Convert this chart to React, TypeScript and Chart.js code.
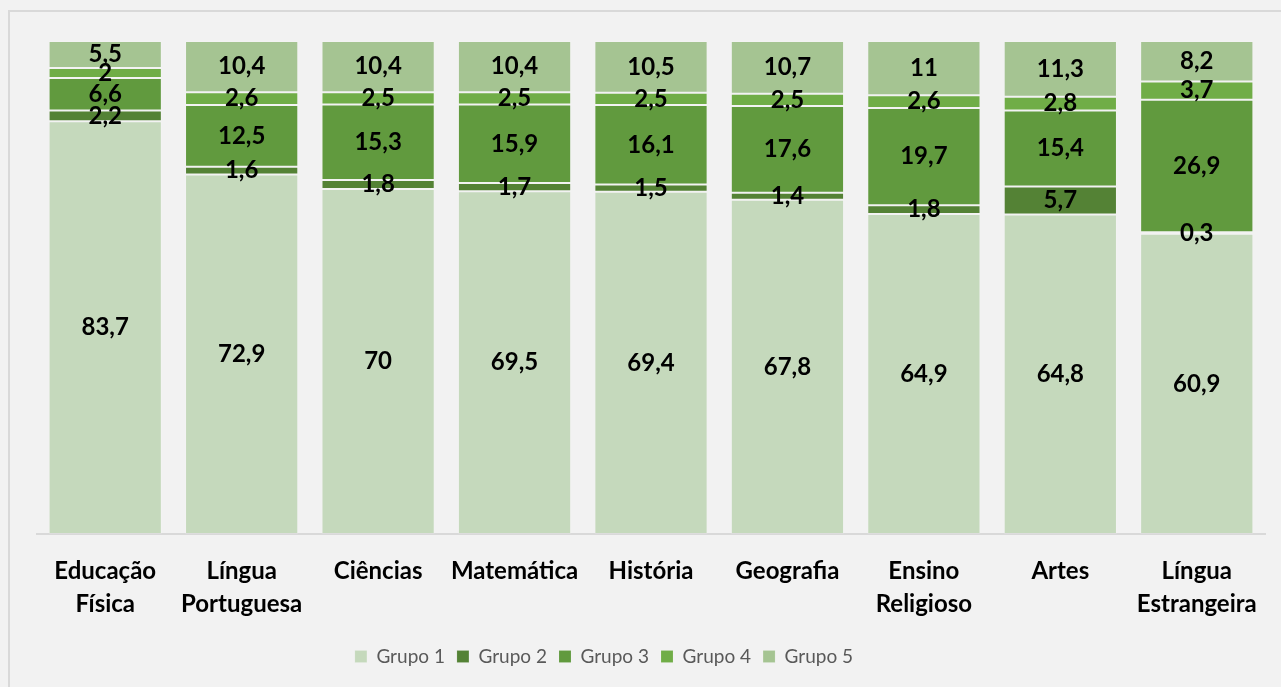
import React, { useEffect, useRef } from "react";
import { Chart, registerables } from "chart.js";

Chart.register(...registerables);

const categories: (string | string[])[] = [
  ["Educação", "Física"],
  ["Língua", "Portuguesa"],
  "Ciências",
  "Matemática",
  "História",
  "Geografia",
  ["Ensino", "Religioso"],
  "Artes",
  ["Língua", "Estrangeira"],
];

const grupo1 = [83.7, 72.9, 70, 69.5, 69.4, 67.8, 64.9, 64.8, 60.9];
const grupo2 = [2.2, 1.6, 1.8, 1.7, 1.5, 1.4, 1.8, 5.7, 0.3];
const grupo3 = [6.6, 12.5, 15.3, 15.9, 16.1, 17.6, 19.7, 15.4, 26.9];
const grupo4 = [2, 2.6, 2.5, 2.5, 2.5, 2.5, 2.6, 2.8, 3.7];
const grupo5 = [5.5, 10.4, 10.4, 10.4, 10.5, 10.7, 11, 11.3, 8.2];

const seriesNames = ["Grupo 1", "Grupo 2", "Grupo 3", "Grupo 4", "Grupo 5"];
const seriesColors = ["#c5d9bc", "#548235", "#619a3e", "#70ad47", "#a5c492"];

const FONT = "Lato, 'Liberation Sans', sans-serif";

const labelPlugin = {
  id: "segLabels",
  afterDatasetsDraw(chart: any) {
    const ctx = chart.ctx;
    ctx.save();
    ctx.font = `bold 24px ${FONT}`;
    ctx.fillStyle = "#000000";
    ctx.textAlign = "center";
    ctx.textBaseline = "middle";
    chart.data.datasets.forEach((ds: any, di: number) => {
      const meta = chart.getDatasetMeta(di);
      meta.data.forEach((el: any, i: number) => {
        const v = ds.data[i];
        const y = (el.y + el.base) / 2;
        ctx.fillText(String(v).replace(".", ","), el.x, y);
      });
    });
    ctx.restore();
  },
};

const framePlugin = {
  id: "frame",
  beforeDraw(chart: any) {
    const ctx = chart.ctx;
    ctx.save();
    ctx.fillStyle = "#f2f2f2";
    ctx.fillRect(0, 0, chart.width, chart.height);
    ctx.strokeStyle = "#d9d9d9";
    ctx.lineWidth = 2;
    ctx.strokeRect(9, 11, chart.width + 20, chart.height + 20);
    ctx.restore();
    const lg = chart.legend;
    if (lg && !lg.__shifted) {
      lg.__shifted = true;
      const orig = lg.draw;
      lg.draw = function (...args: any[]) {
        const c = this.ctx;
        c.save();
        c.translate(-47, -7);
        orig.apply(this, args);
        c.restore();
      };
    }
  },
};

export default function App() {
  const ref = useRef<HTMLCanvasElement>(null);
  useEffect(() => {
    if (!ref.current) return;
    const datasets = [grupo1, grupo2, grupo3, grupo4, grupo5].map((d, i) => ({
      label: seriesNames[i],
      data: d,
      backgroundColor: seriesColors[i],
      borderColor: "rgba(255,255,255,0.12)",
      borderWidth: 1,
      borderSkipped: false,
      categoryPercentage: 1,
      barPercentage: 0.83,
    }));
    const chart = new Chart(ref.current, {
      type: "bar",
      data: { labels: categories, datasets },
      options: {
        animation: false,
        responsive: false,
        maintainAspectRatio: false,
        layout: { padding: { left: 37, right: 16, top: 41, bottom: 4 } },
        scales: {
          x: {
            stacked: true,
            grid: { display: false, drawTicks: false },
            border: { display: true, color: "#d9d9d9", width: 2 },
            ticks: {
              color: "#000000",
              font: { family: FONT, size: 24, weight: "bold", lineHeight: 1.375 },
              padding: 21,
              maxRotation: 0,
              autoSkip: false,
            },
          },
          y: {
            stacked: true,
            display: false,
            min: 0,
            max: 100,
          },
        },
        plugins: {
          legend: {
            position: "bottom",
            labels: {
              color: "#595959",
              font: { family: FONT, size: 19 },
              boxWidth: 12,
              boxHeight: 12,
              padding: 12,
            },
          },
          tooltip: { enabled: false },
        },
      },
      plugins: [framePlugin, labelPlugin],
    });
    return () => chart.destroy();
  }, []);
  return (
    <div style={{ position: "fixed", left: 0, top: 0, width: 1281, height: 687, background: "#f2f2f2" }}>
      <canvas ref={ref} width={1281} height={687} style={{ display: "block" }} />
    </div>
  );
}
